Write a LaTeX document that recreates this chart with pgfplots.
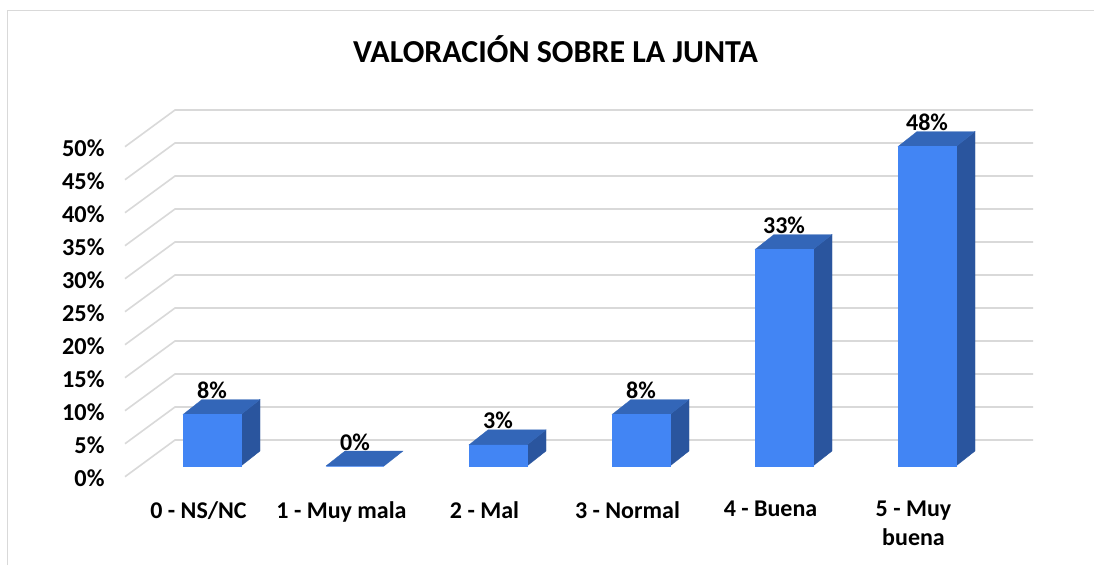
\documentclass[border=0pt]{standalone}
\usepackage{fontspec}
\setmainfont{Carlito}
\usepackage{pgfplots}
\pgfplotsset{compat=1.18}
\definecolor{barfront}{HTML}{4285F4}
\definecolor{bartop}{HTML}{3366B8}
\definecolor{barside}{HTML}{2A559E}
\definecolor{gridc}{HTML}{D9D9D9}
\begin{document}
\begin{tikzpicture}[x=1pt,y=1pt]
\path[use as bounding box] (0,0) rectangle (1094,565);
\fill[white] (0,0) rectangle (1094,565);
\draw[gridc,line width=1.4pt] (7.5,0) -- (7.5,554.3) -- (1094,554.3);
\node[anchor=base,font=\fontsize{32}{38}\selectfont\bfseries] at (555.5,502) {VALORACIÓN SOBRE LA JUNTA};
\begin{axis}[
  at={(125pt,88.3pt)},anchor=south west,
  scale only axis,width=908pt,height=330pt,
  xmin=-0.6084,xmax=5.7413,ymin=0,ymax=50,
  clip=false,
  axis line style={draw=none},
  major tick length=0pt,
  xtick={0,1,2,3,4,5},
  xticklabels={0 - NS/NC,1 - Muy mala,2 - Mal,3 - Normal,4 - Buena,{5 - Muy\\buena}},
  xticklabel style={font=\fontsize{24}{28.5}\selectfont\bfseries,align=center,anchor=north,xshift=-13.5pt,yshift=-21pt},
  ytick={0,5,...,50},
  yticklabel={\pgfmathprintnumber[assume math mode=true]{\tick}\%},
  yticklabel style={font=\fontsize{24.3}{29}\selectfont\bfseries,anchor=east,xshift=-17pt,yshift=-1.5pt},
]
% back wall grid: front end, back corner, right end
\addplot[gridc,line width=1.6pt,mark=none] coordinates {
(-0.6084,0) (-0.2587,5.56) (5.7413,5.56)

(-0.6084,5) (-0.2587,10.56) (5.7413,10.56)

(-0.6084,10) (-0.2587,15.56) (5.7413,15.56)

(-0.6084,15) (-0.2587,20.56) (5.7413,20.56)

(-0.6084,20) (-0.2587,25.56) (5.7413,25.56)

(-0.6084,25) (-0.2587,30.56) (5.7413,30.56)

(-0.6084,30) (-0.2587,35.56) (5.7413,35.56)

(-0.6084,35) (-0.2587,40.56) (5.7413,40.56)

(-0.6084,40) (-0.2587,45.56) (5.7413,45.56)

(-0.6084,45) (-0.2587,50.56) (5.7413,50.56)

(-0.6084,50) (-0.2587,55.56) (5.7413,55.56)
};
% side faces
\addplot[fill=barside,draw=barside,line width=0.3pt,mark=none,yshift=10.7pt] coordinates {(0.2028,0) (0.3357,2.27) (0.3357,10.07) (0.2028,7.8)} --cycle;
\addplot[fill=barside,draw=barside,line width=0.3pt,mark=none,yshift=10.7pt] coordinates {(2.2028,0) (2.3357,2.27) (2.3357,5.47) (2.2028,3.2)} --cycle;
\addplot[fill=barside,draw=barside,line width=0.3pt,mark=none,yshift=10.7pt] coordinates {(3.2028,0) (3.3357,2.27) (3.3357,10.07) (3.2028,7.8)} --cycle;
\addplot[fill=barside,draw=barside,line width=0.3pt,mark=none,yshift=10.7pt] coordinates {(4.2028,0) (4.3357,2.27) (4.3357,35.07) (4.2028,32.8)} --cycle;
\addplot[fill=barside,draw=barside,line width=0.3pt,mark=none,yshift=10.7pt] coordinates {(5.2028,0) (5.3357,2.27) (5.3357,50.67) (5.2028,48.4)} --cycle;
% top faces
\addplot[fill=bartop,draw=bartop,line width=0.3pt,mark=none,yshift=10.7pt] coordinates {(-0.2028,7.8) (-0.0699,10.07) (0.3357,10.07) (0.2028,7.8)} --cycle;
\addplot[fill=bartop,draw=bartop,line width=0.3pt,mark=none,yshift=10.7pt] coordinates {(0.7972,0) (0.9301,2.27) (1.3357,2.27) (1.2028,0)} --cycle;
\addplot[fill=bartop,draw=bartop,line width=0.3pt,mark=none,yshift=10.7pt] coordinates {(1.7972,3.2) (1.9301,5.47) (2.3357,5.47) (2.2028,3.2)} --cycle;
\addplot[fill=bartop,draw=bartop,line width=0.3pt,mark=none,yshift=10.7pt] coordinates {(2.7972,7.8) (2.9301,10.07) (3.3357,10.07) (3.2028,7.8)} --cycle;
\addplot[fill=bartop,draw=bartop,line width=0.3pt,mark=none,yshift=10.7pt] coordinates {(3.7972,32.8) (3.9301,35.07) (4.3357,35.07) (4.2028,32.8)} --cycle;
\addplot[fill=bartop,draw=bartop,line width=0.3pt,mark=none,yshift=10.7pt] coordinates {(4.7972,48.4) (4.9301,50.67) (5.3357,50.67) (5.2028,48.4)} --cycle;
% front faces with labels
\addplot[ybar,bar width=57.5pt,/pgf/bar shift=0pt,fill=barfront,draw=barfront,line width=0.3pt,yshift=10.7pt,
  nodes near coords={\pgfmathprintnumber[precision=0,assume math mode=true]{\pgfplotspointmeta}\%},
  every node near coord/.style={anchor=base,yshift=16pt,black,inner sep=0pt,font=\fontsize{24}{29}\selectfont\bfseries}]
  coordinates {(0,7.8) (1,0) (2,3.2) (3,7.8) (4,32.8) (5,48.4)};
\end{axis}
\end{tikzpicture}
\end{document}
